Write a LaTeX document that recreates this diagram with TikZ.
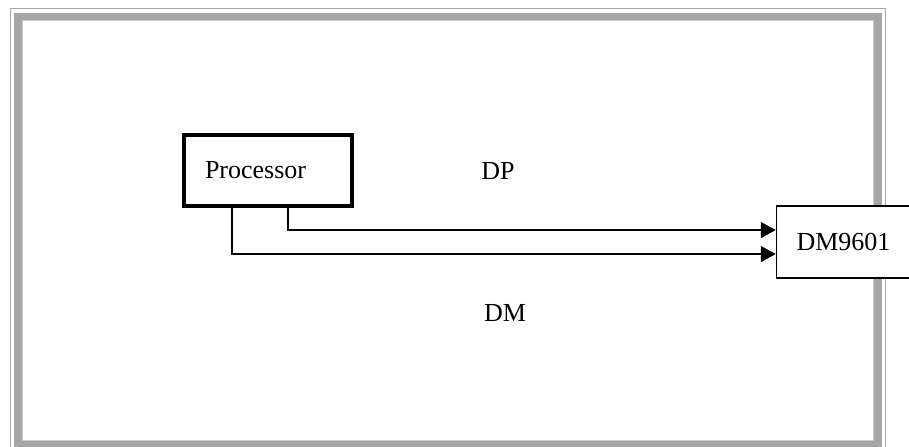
\documentclass[tikz,border=0pt]{standalone}
\usepackage{fontspec}
\setmainfont{Liberation Serif}
\usetikzlibrary{positioning,calc,arrows.meta}

\definecolor{framegray}{HTML}{A6A6A6}
\definecolor{framelight}{HTML}{CCCCCC}

\begin{document}
\begin{tikzpicture}[x=0.5pt, y=-0.5pt, >={Triangle[length=7.5pt, width=8pt]},
  font=\fontsize{13pt}{15pt}\selectfont,
  unit/.style = {draw, fill=white, line width=0.75pt, minimum width=67pt, minimum height=36pt, inner sep=0pt},
  cpu/.style = {draw, fill=white, line width=2pt, minimum width=84pt, minimum height=35.5pt, inner sep=0pt, text width=63pt, align=left},
  link/.style = {->, line width=0.75pt},
  sig/.style = {inner sep=0pt}]

\useasboundingbox (0,0) rectangle (909,446);
\clip (0,0) rectangle (909,446);

% frame
\draw[framegray, line width=0.75pt] (10.5,8.5) rectangle (885.5,470);
\draw[framegray, line width=4pt] (18,16.5) rectangle (878,444.5);
\draw[framelight, line width=0.5pt] (22.5,20.5) rectangle (873.5,440.5);

\node[cpu] (proc) at (268,170.5) {Processor};
\node[unit] (dm) at (843.5,242) {DM9601};

\node[sig] (dp) at (498,171) {DP};
\node[sig] (dmlbl) at (505,313) {DM};

\draw[link] ($(proc.south)+(20,0)$) |- ($(dm.west)+(0,-12)$);
\draw[link] ($(proc.south)+(-36,0)$) |- ($(dm.west)+(0,12)$);
\end{tikzpicture}
\end{document}
